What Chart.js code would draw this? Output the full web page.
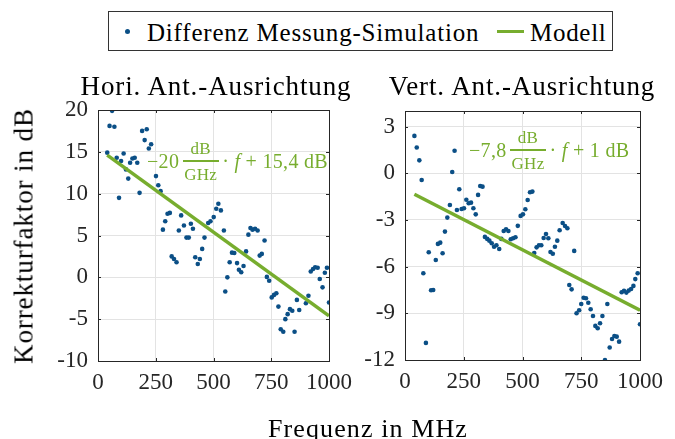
<!DOCTYPE html>
<html lang="de">
  <head>
    <meta charset="utf-8" />
    <title>Korrekturfaktor</title>
    <style>
      * {
        margin: 0;
        padding: 0;
      }
      body {
        width: 675px;
        height: 439px;
        background: white;
        position: relative;
        overflow: hidden;
        font-family: "Liberation Serif", serif;
        color: #000;
      }
      canvas {
        position: absolute;
        top: 0;
      }
      #cH { left: 0; }
      #cV { left: 360px; }
      .txt {
        position: absolute;
        white-space: nowrap;
        line-height: 1;
      }
      .legend {
        position: absolute;
        left: 108px;
        top: 11px;
        width: 503px;
        height: 38px;
        border: 1px solid #333;
        background: white;
      }
      .title {
        font-size: 27px;
        letter-spacing: 0.9px;
        transform: translateX(-50%);
      }
      .anno {
        color: #77ad2e;
        font-size: 20px;
        letter-spacing: 0.3px;
        display: flex;
        align-items: center;
      }
      .frac {
        display: inline-flex;
        flex-direction: column;
        align-items: center;
        margin: 0 5px;
        font-size: 17px;
      }
      .frac .bar {
        width: 110%;
        height: 1.5px;
        background: #77ad2e;
        margin: 3px 0 4px;
      }
    </style>
  </head>
  <body>
    <canvas id="cH" width="360" height="439"></canvas>
    <canvas id="cV" width="315" height="439"></canvas>

    <div class="legend">
      <div class="txt" style="left: 16px; top: 17px; width: 5px; height: 5px; border-radius: 50%; background: #0b4f86"></div>
      <div class="txt" style="left: 38px; top: 8px; font-size: 25px; letter-spacing: 0.8px">Differenz Messung-Simulation</div>
      <div class="txt" style="left: 388px; top: 18px; width: 27px; height: 3px; background: #77ad2e"></div>
      <div class="txt" style="left: 421px; top: 8px; font-size: 25px; letter-spacing: 0.7px">Modell</div>
    </div>

    <div class="txt title" style="left: 216px; top: 73px">Hori. Ant.-Ausrichtung</div>
    <div class="txt title" style="left: 522px; top: 73px">Vert. Ant.-Ausrichtung</div>

    <div class="txt anno" style="left: 147px; top: 140px">
      <span>−20</span>
      <span class="frac"><span>dB</span><span class="bar"></span><span>GHz</span></span>
      <span>· <i>f</i> + 15,4 dB</span>
    </div>
    <div class="txt anno" style="left: 469px; top: 129px">
      <span>−7,8</span>
      <span class="frac"><span>dB</span><span class="bar"></span><span>GHz</span></span>
      <span>· <i>f</i> + 1 dB</span>
    </div>

    <div class="txt" style="left: 24px; top: 236px; font-size: 27px; letter-spacing: 0.9px; transform: translate(-50%, -50%) rotate(-90deg)">Korrekturfaktor in dB</div>
    <div class="txt" style="left: 368px; top: 416px; font-size: 26px; letter-spacing: 1.1px; transform: translateX(-50%)">Frequenz in MHz</div>

    <script src="https://cdn.jsdelivr.net/npm/chart.js"></script>

    <script>
      // horizontale Antennenausrichtung
      const freqH = [40, 50, 61, 71, 81, 91, 100, 111, 121, 131, 139, 149, 159, 170, 180, 191, 202, 211, 220, 230,
        251, 261, 271, 281, 291, 301, 311, 319, 329, 340, 350, 360, 372, 383, 393, 402, 411, 421, 432, 441,
        451, 461, 477, 487, 501, 512, 521, 532, 545, 551, 560, 570, 580, 590, 602, 610, 620, 630, 641, 651,
        660, 669, 680, 691, 700, 709, 721, 731, 741, 752, 762, 772, 781, 791, 802, 811, 821, 831, 841, 851,
        861, 871, 900, 911, 921, 931, 940, 951, 960, 972, 982, 991, 1000];
      const diffH = [14.9, 18.1, 19.9, 18.0, 14.3, 9.5, 13.9, 14.8, 12.9, 11.8, 13.7, 14.2, 14.3, 13.7, 10.1, 17.5, 16.4, 17.7, 15.4, 15.9,
        12.1, 11.0, 10.3, 5.7, 6.7, 7.6, 7.7, 2.5, 2.2, 1.8, 5.6, 7.4, 6.2, 4.75, 4.75, 6.4, 5.8, 2.4, 1.6, 2.2,
        3.4, 4.75, 6.5, 6.7, 7.2, 8.2, 8.8, 8.0, 5.6, -1.7, 0, 1.8, 2.95, 2.9, 1.7, 0.9, 0.6, 1.35, 3.1, 5.1,
        5.9, 5.7, 5.8, 5.6, 2.6, 2.8, 4.4, 0.05, -0.4, -2.4, -2.1, -1.9, -3.5, -6.2, -6.5, -5.0, -4.4, -3.8, -4.0, -6.5,
        -2.7, -3.9, -3.1, -2.2, 0.7, 1.0, 1.2, 1.15, -0.2, -1.2, 0.55, 1.15, -3.0];

      // vertikale Antennenausrichtung
      const freqV = [40, 50, 61, 71, 78, 89, 101, 111, 120, 131, 140, 150, 160, 170, 180, 191, 201, 211, 221, 231,
        241, 251, 261, 271, 281, 291, 301, 311, 320, 330, 340, 350, 359, 369, 379, 389, 401, 410, 420, 430,
        440, 450, 460, 470, 480, 492, 502, 512, 522, 532, 542, 550, 560, 570, 580, 590, 600, 610, 619, 629,
        638, 648, 658, 671, 681, 691, 699, 709, 720, 730, 741, 750, 760, 770, 780, 790, 800, 810, 820, 830,
        840, 851, 861, 871, 881, 891, 901, 911, 922, 932, 942, 952, 962, 972, 980, 990, 1000];
      const diffV = [2.4, 1.65, 0.83, -0.43, -6.43, -10.9, -5.08, -7.52, -7.5, -5.57, -4.54, -4.46, -5.14, -3.75, -2.85, -2.04, 0.08, 1.45, -2.36, -1.03,
        -2.3, -2.25, -1.7, -1.93, -1.89, -2.25, -2.64, -1.39, -0.82, -0.86, -4.09, -4.22, -4.33, -4.5, -4.72, -4.63, -4.87, -4.22, -3.71, -3.6,
        -3.71, -4.24, -4.18, -4.11, -3.38, -2.74, -2.64, -2.31, -1.72, -1.22, -1.18, -5.12, -4.76, -4.63, -4.63, -4.16, -3.9, -4.18, -5.06, -5.17,
        -4.72, -4.33, -3.66, -3.2, -3.39, -3.53, -7.18, -7.46, -4.99, -9.0, -8.8, -8.4, -8.0, -8.03, -8.32, -8.74, -9.17, -9.81, -9.96, -9.64,
        -9.17, -12.0, -8.4, -11.2, -10.65, -10.46, -10.5, -10.82, -7.65, -7.56, -7.67, -7.54, -7.44, -7.24, -6.8, -6.43, -9.7];

      // Modellgeraden (Endpunkte)
      const modelF = [40, 1000];
      const modelH = [14.6, -4.6];
      const modelV = [-1.35, -8.8];

      const xTicks = [0, 250, 500, 750, 1000];
      const yTicksH = [-10, -5, 0, 5, 10, 15, 20];
      const yTicksV = [-12, -9, -6, -3, 0, 3];

      const blue = "#0b4f86";
      const green = "#77ad2e";

      Chart.defaults.font.family = "'Liberation Serif', serif";
      Chart.defaults.color = "#262626";

      const toPoints = (xs, ys) => xs.map((x, i) => ({ x: x, y: ys[i] }));

      const frame = {
        id: "frame",
        afterDraw(chart) {
          const { ctx, chartArea: { top, bottom, left, right }, scales: { x, y } } = chart;
          ctx.save();
          ctx.strokeStyle = "#262626";
          ctx.lineWidth = 1;
          ctx.beginPath();
          x.ticks.forEach((t) => {
            const px = Math.round(x.getPixelForValue(t.value)) + 0.5;
            ctx.moveTo(px, bottom);
            ctx.lineTo(px, bottom - 3);
            ctx.moveTo(px, top);
            ctx.lineTo(px, top + 3);
          });
          y.ticks.forEach((t) => {
            const py = Math.round(y.getPixelForValue(t.value)) + 0.5;
            ctx.moveTo(left, py);
            ctx.lineTo(left + 3, py);
            ctx.moveTo(right, py);
            ctx.lineTo(right - 3, py);
          });
          ctx.stroke();
          ctx.strokeRect(Math.round(left) + 0.5, Math.round(top) + 0.5, Math.round(right - left), Math.round(bottom - top));
          ctx.restore();
        },
      };

      function makeChart(id, freq, diff, model, yMin, yMax, yTicks, pad, yWidth, xHeight) {
        return new Chart(document.getElementById(id), {
          type: "scatter",
          data: {
            datasets: [
              {
                type: "line",
                data: toPoints(modelF, model),
                borderColor: green,
                borderWidth: 3.5,
                pointRadius: 0,
                order: 0,
              },
              {
                data: toPoints(freq, diff),
                backgroundColor: blue,
                borderWidth: 0,
                pointRadius: 2.3,
                order: 1,
              },
            ],
          },
          options: {
            responsive: false,
            animation: false,
            layout: { padding: pad },
            plugins: { legend: { display: false }, tooltip: { enabled: false } },
            scales: {
              x: {
                type: "linear",
                min: 0,
                max: 1000,
                afterBuildTicks: (s) => { s.ticks = xTicks.map((v) => ({ value: v })); },
                afterFit: (s) => { s.height = xHeight; },
                grid: { color: "#e3e3e3", drawTicks: false },
                border: { display: false },
                ticks: { font: { size: 23 }, padding: 8, maxRotation: 0, callback: (v) => String(v) },
              },
              y: {
                min: yMin,
                max: yMax,
                afterBuildTicks: (s) => { s.ticks = yTicks.map((v) => ({ value: v })); },
                afterFit: (s) => { s.width = yWidth; },
                grid: { color: "#e3e3e3", drawTicks: false },
                border: { display: false },
                ticks: { font: { size: 23 }, padding: 10, callback: (v) => String(v) },
              },
            },
          },
          plugins: [frame],
        });
      }

      makeChart("cH", freqH, diffH, modelH, -10, 20, yTicksH,
        { left: 0, right: 27, top: 110, bottom: 0 }, 98, 78);
      makeChart("cV", freqV, diffV, modelV, -12, 4, yTicksV,
        { left: 0, right: 35, top: 111, bottom: 0 }, 45, 79);
    </script>
  </body>
</html>
